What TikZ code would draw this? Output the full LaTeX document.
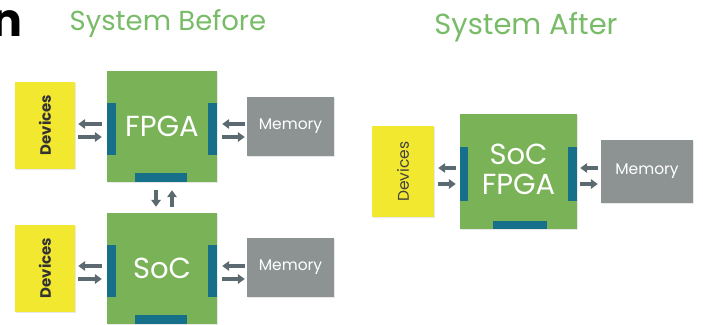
\documentclass[tikz,border=0pt]{standalone}
\usepackage{fontspec}
\setmainfont{Poppins}
\usetikzlibrary{arrows.meta,shadows}
\definecolor{boxgreen}{HTML}{7AB257}
\definecolor{titlegreen}{HTML}{78BC68}
\definecolor{devyellow}{HTML}{F2E830}
\definecolor{memgray}{HTML}{8D9393}
\definecolor{barteal}{HTML}{17708A}
\definecolor{arrgray}{HTML}{5B6A70}
\tikzset{
  box/.style={rectangle, inner sep=0pt, drop shadow={opacity=0.18, shadow xshift=1pt, shadow yshift=-1pt}},
  chip/.style={box, fill=boxgreen, minimum width=110pt, minimum height=111pt},
  chiptext/.style={text=white, font=\fontsize{29}{30}\selectfont, align=center},
  dev/.style={box, fill=devyellow, minimum width=60pt, minimum height=87pt},
  devtext/.style={rotate=90, font=\fontsize{15}{17}\selectfont\bfseries, text=black!80},
  mem/.style={box, fill=memgray, minimum width=87pt, minimum height=59pt, text=white, font=\fontsize{15.5}{17}\selectfont},
  title/.style={text=titlegreen},
  bar/.style={fill=barteal},
  arr/.style={draw=arrgray, line width=3.4pt, -{Triangle[length=7pt,width=9.5pt]}}
}
\begin{document}
\begin{tikzpicture}[x=1pt,y=-1pt]
\useasboundingbox (0,0) rectangle (703,324);
\fill[white] (0,0) rectangle (703,324);
% partial heading letter
\node[anchor=east, inner sep=0pt, font=\fontsize{46}{48}\selectfont\bfseries] (hn) at (23,24) {n};
% titles
\node[title, font=\fontsize{27.5}{30}\selectfont] (t1) at (168,24) {System Before};
\node[title, font=\fontsize{29}{32}\selectfont] (t2) at (526,27) {System After};

% --- System Before, top row
\node[dev] (dev1) at (45,125) {};
\node[devtext] (dev1t) at (dev1.center) {Devices};
\node[chip] (fpga) at (162,126.5) {};
\node[mem] (mem1) at (290.5,126.5) {Memory};
\fill[bar] (fpga.north west) ++(0,32) rectangle ++(9,52);
\fill[bar] (fpga.north east) ++(-9,32) rectangle ++(9,52);
\fill[bar] (fpga.south west) ++(28,-9) rectangle ++(52,9);
\node[chiptext] (fpgat) at (fpga.center) {FPGA};

% --- System Before, bottom row
\node[dev] (dev2) at (45,268) {};
\node[devtext] (dev2t) at (dev2.center) {Devices};
\node[chip] (soc) at (162,268.5) {};
\node[mem] (mem2) at (290.5,267.5) {Memory};
\fill[bar] (soc.north west) ++(0,32) rectangle ++(9,52);
\fill[bar] (soc.north east) ++(-9,32) rectangle ++(9,52);
\fill[bar] (soc.south west) ++(28,-9) rectangle ++(52,9);
\node[chiptext] (soct) at (soc.center) {SoC};

% --- System After
\node[dev, minimum width=62pt, minimum height=91pt] (dev3) at (403,171.5) {};
\node[devtext, font=\fontsize{15.5}{17}\selectfont, text=black!75] (dev3t) at (dev3.center) {Devices};
\node[chip, minimum width=117pt, minimum height=115pt] (sf) at (518.5,171.5) {};
\node[mem, minimum width=92pt, minimum height=63pt] (mem3) at (647,171.5) {Memory};
\fill[bar] (sf.north west) ++(0,33) rectangle ++(8,54);
\fill[bar] (sf.north east) ++(-9,33) rectangle ++(9,54);
\fill[bar] (sf.south west) ++(33,-8) rectangle ++(54,8);
\node[chiptext] (sft) at ([yshift=2pt]sf.center) {SoC\\FPGA};

% --- arrows, top row
\draw[arr, shorten <=5pt, shorten >=3pt] (fpga.west |- 0,124) -- (dev1.east |- 0,124);
\draw[arr, shorten <=3pt, shorten >=5pt] (dev1.east |- 0,137) -- (fpga.west |- 0,137);
\draw[arr, shorten <=2pt, shorten >=5pt] (mem1.west |- 0,124) -- (fpga.east |- 0,124);
\draw[arr, shorten <=5pt, shorten >=2pt] (fpga.east |- 0,137) -- (mem1.west |- 0,137);
% vertical
\draw[arr, shorten <=8pt, shorten >=6pt] (fpga.south -| 156,0) -- (soc.north -| 156,0);
\draw[arr, shorten <=6pt, shorten >=8pt] (soc.north -| 172,0) -- (fpga.south -| 172,0);
% bottom row
\draw[arr, shorten <=5pt, shorten >=3pt] (soc.west |- 0,266) -- (dev2.east |- 0,266);
\draw[arr, shorten <=3pt, shorten >=5pt] (dev2.east |- 0,279) -- (soc.west |- 0,279);
\draw[arr, shorten <=2pt, shorten >=5pt] (mem2.west |- 0,266) -- (soc.east |- 0,266);
\draw[arr, shorten <=5pt, shorten >=2pt] (soc.east |- 0,279) -- (mem2.west |- 0,279);
% after
\draw[arr, shorten <=4pt, shorten >=4pt] (sf.west |- 0,168) -- (dev3.east |- 0,168);
\draw[arr, shorten <=4pt, shorten >=4pt] (dev3.east |- 0,184) -- (sf.west |- 0,184);
\draw[arr, shorten <=3pt, shorten >=3pt] (mem3.west |- 0,168) -- (sf.east |- 0,168);
\draw[arr, shorten <=3pt, shorten >=3pt] (sf.east |- 0,184) -- (mem3.west |- 0,184);
\end{tikzpicture}
\end{document}
